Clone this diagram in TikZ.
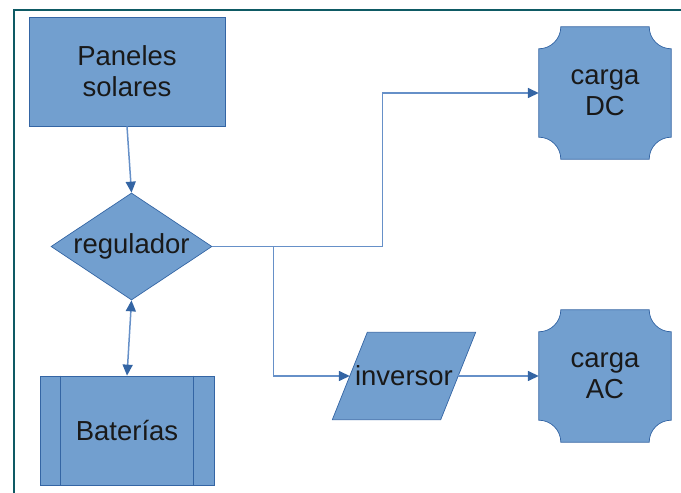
\documentclass[tikz,border=0pt]{standalone}
\usepackage{fontspec}
\setmainfont{Liberation Sans}
\usetikzlibrary{shapes.geometric,arrows.meta,backgrounds}
\definecolor{relleno}{HTML}{729FCF}
\definecolor{borde}{HTML}{3465A4}
\definecolor{linea}{HTML}{6690C8}
\definecolor{marco}{HTML}{0E5A64}
\tikzset{
	caja/.style={fill=relleno,draw=borde,line width=0.7pt},
	texto/.style={font=\fontsize{27.5}{31}\selectfont,text=black!90,align=center,inner sep=0pt},
	punta/.tip={Triangle[length=11pt,width=10pt,color=borde]},
	flecha/.style={draw=linea,line width=1.5pt,-punta},
	flechas/.style={flecha,punta-punta}
}
\newcommand{\esq}{22pt}
\begin{document}
\begin{tikzpicture}[x=1pt,y=1pt]
\useasboundingbox (0,0) rectangle (681,493);
\draw[draw=marco,line width=2.8pt] (14,0) -- (14,483) -- (681,483); %
\node[caja,texto,minimum width=196pt,minimum height=109pt] (pan) at (127,421.5) {Paneles\\solares};
\node[caja,texto,diamond,aspect=1.5,minimum width=161pt,minimum height=107pt] (reg) at (131.5,246.5) {regulador};
\node[caja,texto,minimum width=174pt,minimum height=109pt] (bat) at (127,62.5) {Baterías};
\foreach \lado/\s in {west/21,east/-21}
	\draw[borde,line width=0.7pt] ([xshift=\s]bat.north \lado) -- ([xshift=\s]bat.south \lado);
\node[texto,minimum width=108pt,minimum height=87pt] (inv) at (404,117) {inversor};
\node[texto,minimum width=132pt,minimum height=132pt] (cdc) at (605,400) {carga\\DC};
\node[texto,minimum width=132pt,minimum height=132pt] (cac) at (605,117) {carga\\AC};
\begin{scope}[on background layer]
\filldraw[caja] ([xshift=-17.5pt]inv.south west) -- ([xshift=-17.5pt]inv.south east) -- ([xshift=17.5pt]inv.north east) -- ([xshift=17.5pt]inv.north west) -- cycle; %
\foreach \n in {cdc,cac}
{
	\filldraw[caja] ([xshift=\esq]\n.north west) -- ([xshift=-\esq]\n.north east) arc[start angle=180,end angle=270,radius=\esq]
	-- ([yshift=\esq]\n.south east) arc[start angle=90,end angle=180,radius=\esq]
	-- ([xshift=\esq]\n.south west) arc[start angle=0,end angle=90,radius=\esq]
	-- ([yshift=-\esq]\n.north west) arc[start angle=-90,end angle=0,radius=\esq] -- cycle; %
}
\end{scope}
\draw[flecha] (pan.south) -- (reg.north);
\draw[flechas] (reg.south) -- (bat.north);
\draw[flecha] (reg.east) -- ++(170,0) |- (cdc.west);
\draw[flecha] (reg.east) -- ++(61,0) |- (inv.west);
\draw[flecha] (inv.east) -- (cac.west);
\end{tikzpicture}
\end{document}
